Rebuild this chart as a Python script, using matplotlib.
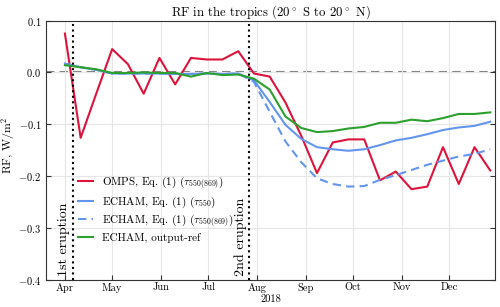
import numpy as np
import pandas as pd
import matplotlib
matplotlib.use('Agg')
import matplotlib.pyplot as plt
import matplotlib.dates as mdates

plt.rcParams['font.family'] = 'cmr10'
plt.rcParams['mathtext.fontset'] = 'cm'
plt.rcParams['axes.formatter.use_mathtext'] = True

# 10-day means, 2018
dates = pd.date_range('2018-04-01', periods=28, freq='10D')

omps = [0.075, -0.126, -0.040, 0.045, 0.016, -0.041, 0.028, -0.023, 0.028, 0.025,
        0.025, 0.041, -0.002, -0.008, -0.058, -0.122, -0.194, -0.135, -0.129, -0.129,
        -0.208, -0.191, -0.225, -0.220, -0.144, -0.215, -0.144, -0.189]
echam_550 = [0.017, 0.010, 0.005, -0.002, -0.002, -0.002, -0.002, -0.003, -0.003, -0.002,
             -0.003, -0.002, -0.015, -0.057, -0.101, -0.128, -0.144, -0.148, -0.151, -0.148,
             -0.140, -0.131, -0.126, -0.119, -0.111, -0.106, -0.103, -0.095]
echam_869 = [0.017, 0.010, 0.005, -0.002, -0.002, -0.002, -0.002, -0.003, -0.003, -0.002,
             -0.003, -0.002, -0.018, -0.076, -0.133, -0.173, -0.204, -0.215, -0.220, -0.219,
             -0.207, -0.198, -0.188, -0.178, -0.170, -0.162, -0.157, -0.148]
echam_ref = [0.014, 0.010, 0.006, -0.001, -0.001, 0.000, -0.001, -0.001, -0.008, -0.001,
             -0.005, -0.004, -0.012, -0.033, -0.085, -0.107, -0.115, -0.113, -0.108, -0.105,
             -0.097, -0.097, -0.091, -0.094, -0.088, -0.080, -0.080, -0.077]

eruptions = [pd.Timestamp('2018-04-06'), pd.Timestamp('2018-07-27')]
eruption_labels = ['1st eruption', '2nd eruption']

fig = plt.figure(figsize=(5, 3.07), dpi=100)
ax = fig.add_axes([0.092, 0.088, 0.898, 0.845])

ax.grid(True, color='#e6e6e6', lw=0.8, zorder=0)
ax.axhline(0, color='#808080', ls='--', lw=1.5, dashes=(4, 2.5), zorder=1)

ax.plot(dates, omps, color='crimson', lw=1.5, label=r'OMPS, Eq. (1) ($\tau_{550(869)}$)', zorder=3)
ax.plot(dates, echam_550, color='cornflowerblue', lw=1.5, label=r'ECHAM, Eq. (1) ($\tau_{550}$)', zorder=3)
ax.plot(dates, echam_869, color='cornflowerblue', lw=1.5, ls='--', dashes=(4, 2.5),
        label=r'ECHAM, Eq. (1) ($\tau_{550(869)}$)', zorder=3)
ax.plot(dates, echam_ref, color='#2ca02c', lw=1.5, label='ECHAM, output-ref', zorder=3)

for d, lab in zip(eruptions, eruption_labels):
    ax.axvline(d, color='black', ls=':', lw=1.5, zorder=4)
    ax.text(d - pd.Timedelta(days=1.5), -0.392, lab, rotation=90, ha='right', va='bottom', fontsize=10)

ax.set_xlim(pd.Timestamp('2018-03-20'), pd.Timestamp('2018-12-30'))
ax.set_ylim(-0.4, 0.1)
ax.set_yticks([0.1, 0.0, -0.1, -0.2, -0.3, -0.4])
ax.xaxis.set_major_locator(mdates.MonthLocator())
ax.xaxis.set_major_formatter(mdates.DateFormatter('%b'))
ax.tick_params(direction='in', labelsize=7.5, right=True, colors='#333333', labelcolor='black')
ax.tick_params(axis='x', pad=2)
ax.set_xlabel('2018', fontsize=7.5, labelpad=1)
ax.set_ylabel(r'RF, W/m$^2$', fontsize=8.5)
ax.yaxis.set_label_coords(-0.064, 0.52)
ax.set_title(r'RF in the tropics (20$^\circ$ S to 20$^\circ$ N)', fontsize=9.2, pad=3)
for s in ax.spines.values():
    s.set_color('#333333')

ax.legend(loc='lower left', bbox_to_anchor=(0.05, 0.105), frameon=False, fontsize=8,
          handlelength=1.3, labelspacing=0.3, handletextpad=0.8)

fig.savefig('out.png', dpi=100)
